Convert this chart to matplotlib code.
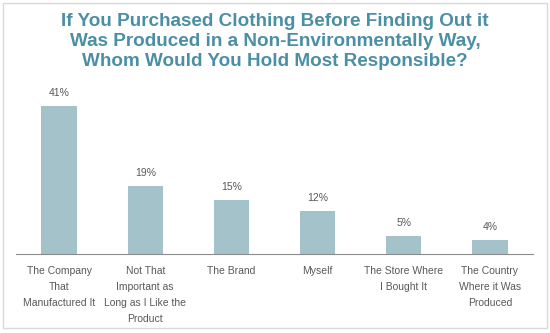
import matplotlib
import matplotlib.pyplot as plt
from matplotlib.patches import Rectangle

matplotlib.use("Agg")

# Survey results
categories = [
    "The Company\nThat\nManufactured It",
    "Not That\nImportant as\nLong as I Like the\nProduct",
    "The Brand",
    "Myself",
    "The Store Where\nI Bought It",
    "The Country\nWhere it Was\nProduced",
]
percentages = [41, 19, 15, 12, 5, 4]

TITLE = ("If You Purchased Clothing Before Finding Out it\n"
         "Was Produced in a Non-Environmentally Way,\n"
         "Whom Would You Hold Most Responsible?")

BAR_COLOR = "#A3C2CA"
TEXT_COLOR = "#595959"
TITLE_COLOR = "#4A8FA5"

fig = plt.figure(figsize=(5.5, 3.33), dpi=100)
ax = fig.add_axes([16 / 550, 79 / 333, 517 / 550, 162 / 333])

x = range(len(categories))
bars = ax.bar(x, percentages, width=0.41, color=BAR_COLOR)
for b, v in zip(bars, percentages):
    ax.text(b.get_x() + b.get_width() / 2, v + 2.2, f"{v}%",
            ha="center", va="bottom", fontsize=7.5, color=TEXT_COLOR,
            family="Liberation Sans")

ax.set_xlim(-0.5, len(categories) - 0.5)
ax.set_ylim(0, 45)
ax.set_yticks([])
ax.set_xticks(list(x))
ax.set_xticklabels(categories, fontsize=7.5, color=TEXT_COLOR,
                   family="Liberation Sans", linespacing=1.75)
ax.tick_params(axis="x", length=0, pad=9)
for side in ["top", "right", "left"]:
    ax.spines[side].set_visible(False)
ax.spines["bottom"].set_color("#8C8C8C")
ax.spines["bottom"].set_linewidth(0.8)

fig.text(0.5, 0.962, TITLE, ha="center", va="top", fontsize=13.6,
         fontweight="bold", color=TITLE_COLOR, family="Liberation Sans",
         linespacing=1.24)

# thin frame around the whole chart
fig.patches.append(Rectangle((3 / 550, 5 / 333), 544 / 550, 325 / 333,
                             transform=fig.transFigure, fill=False,
                             edgecolor="#D9D9D9", linewidth=1))

fig.savefig("out.png", dpi=100)
